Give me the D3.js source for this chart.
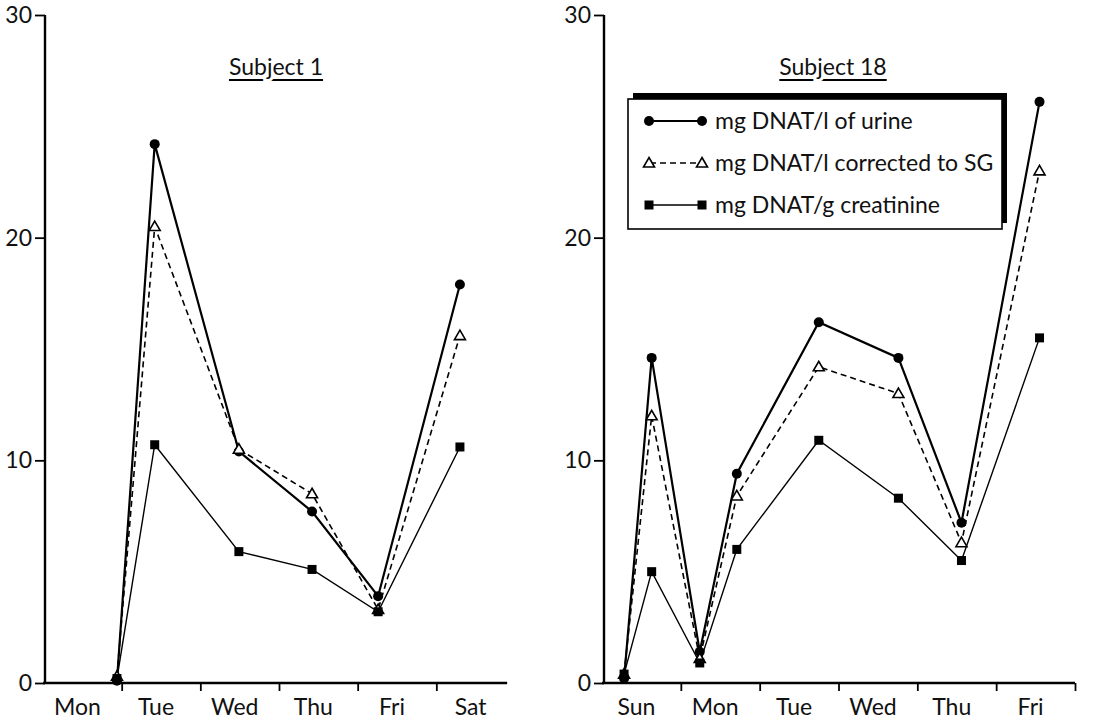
<!DOCTYPE html>
<html>
<head>
<meta charset="utf-8">
<script src="https://cdn.jsdelivr.net/npm/d3@7"></script>
<style>
  body { margin: 0; background: #fff; }
  text { font-family: Lato, "DejaVu Sans", sans-serif; fill: #111; }
</style>
</head>
<body>
<div id="chart"></div>
<script>
// ── Data ──────────────────────────────────────────────────────────────────────
// time = days since start of the first labelled day
const S1_DAYS   = ["Mon", "Tue", "Wed", "Thu", "Fri", "Sat"];
const S1_TIME   = [0.94, 1.42, 2.49, 3.42, 4.26, 5.30];
const S1_URINE  = [0.1, 24.2, 10.4, 7.7, 3.9, 17.9];
const S1_SG     = [0.3, 20.5, 10.5, 8.5, 3.3, 15.6];
const S1_CREAT  = [0.2, 10.7, 5.9, 5.1, 3.2, 10.6];

const S18_DAYS  = ["Sun", "Mon", "Tue", "Wed", "Thu", "Fri"];
const S18_TIME  = [0.28, 0.63, 1.24, 1.71, 2.75, 3.76, 4.56, 5.55];
const S18_URINE = [0.2, 14.6, 1.4, 9.4, 16.2, 14.6, 7.2, 26.1];
const S18_SG    = [0.4, 12.0, 1.1, 8.4, 14.2, 13.0, 6.3, 23.0];
const S18_CREAT = [0.4, 5.0, 0.9, 6.0, 10.9, 8.3, 5.5, 15.5];

const Y_TICKS   = [0, 10, 20, 30];
const LEGEND    = ["mg DNAT/l of urine", "mg DNAT/l corrected to SG", "mg DNAT/g creatinine"];

// ── Series styles ─────────────────────────────────────────────────────────────
const STYLES = [
  { marker: "circle",   dash: null,  width: 2.2 },
  { marker: "triangle", dash: "6,4", width: 1.6 },
  { marker: "square",   dash: null,  width: 1.4 },
];

// ── SVG ───────────────────────────────────────────────────────────────────────
const W = 1113, H = 722;
const svg = d3.select("#chart").append("svg")
  .attr("width", W).attr("height", H);

const yScale = d3.scaleLinear().domain([0, 30]).range([683, 15]);

const panels = [
  { title: "Subject 1",  cx: 276, days: S1_DAYS,  time: S1_TIME,
    series: [S1_URINE, S1_SG, S1_CREAT],   range: [43, 515],  yAxisX: 45,  axisEnd: 5.9, endTick: false },
  { title: "Subject 18", cx: 833, days: S18_DAYS, time: S18_TIME,
    series: [S18_URINE, S18_SG, S18_CREAT], range: [602, 1075], yAxisX: 604, axisEnd: 6.0, endTick: true },
];

function drawMarker(g, type, x, y) {
  if (type === "circle") {
    g.append("circle").attr("cx", x).attr("cy", y).attr("r", 5).attr("fill", "#000");
  } else if (type === "square") {
    g.append("rect").attr("x", x - 4.5).attr("y", y - 4.5)
      .attr("width", 9).attr("height", 9).attr("fill", "#000");
  } else {
    g.append("path")
      .attr("d", `M${x},${y - 5.5}L${x + 5.5},${y + 4}L${x - 5.5},${y + 4}Z`)
      .attr("fill", "#fff").attr("stroke", "#000").attr("stroke-width", 1.6);
  }
}

panels.forEach(p => {
  const x = d3.scaleLinear().domain([0, 6]).range(p.range);
  const g = svg.append("g");

  // y axis
  g.append("line")
    .attr("x1", p.yAxisX).attr("x2", p.yAxisX)
    .attr("y1", yScale(30)).attr("y2", yScale(0))
    .attr("stroke", "#000").attr("stroke-width", 2.4);
  const yAx = g.append("g").attr("transform", `translate(${p.yAxisX},0)`)
    .call(d3.axisLeft(yScale).tickValues(Y_TICKS).tickSize(10).tickPadding(3));
  yAx.select(".domain").remove();
  yAx.selectAll("line").attr("stroke-width", 1.8);
  yAx.selectAll("text").style("font-size", "23px").attr("fill", "#111");

  // x axis
  const xTicks = d3.range(1, p.endTick ? 7 : 6);
  g.append("line")
    .attr("x1", x(0)).attr("x2", x(p.axisEnd))
    .attr("y1", yScale(0)).attr("y2", yScale(0))
    .attr("stroke", "#000").attr("stroke-width", 2.4);
  const xAx = g.append("g").attr("transform", `translate(0,${yScale(0)})`)
    .call(d3.axisBottom(x).tickValues(xTicks).tickSize(8).tickFormat(""));
  xAx.select(".domain").remove();
  xAx.selectAll("line").attr("stroke-width", 1.8);

  // day labels
  const lab = g.append("g").attr("transform", `translate(0,${yScale(0)})`)
    .call(d3.axisBottom(x).tickValues(p.days.map((d, i) => i + 0.43))
      .tickSize(0).tickPadding(16).tickFormat((d, i) => p.days[i]));
  lab.select(".domain").remove();
  lab.selectAll("text").style("font-size", "23px").attr("fill", "#111");

  // title with underline broken by descender
  const ul = g.append("line")
    .attr("y1", 80).attr("y2", 80)
    .attr("stroke", "#000").attr("stroke-width", 1.8);
  const t = g.append("text")
    .attr("x", p.cx).attr("y", 75).attr("text-anchor", "middle")
    .attr("stroke", "#fff").attr("stroke-width", 6).attr("paint-order", "stroke")
    .style("font-size", "23px").text(p.title);
  const tw = t.node().getComputedTextLength();
  ul.attr("x1", p.cx - tw / 2).attr("x2", p.cx + tw / 2);

  // lines
  p.series.forEach((vals, si) => {
    const st = STYLES[si];
    const line = d3.line().x((d, i) => x(p.time[i])).y(d => yScale(d));
    g.append("path").datum(vals)
      .attr("d", line).attr("fill", "none")
      .attr("stroke", "#000").attr("stroke-width", st.width)
      .attr("stroke-dasharray", st.dash);
  });
  // markers
  p.series.forEach((vals, si) => {
    vals.forEach((v, i) => drawMarker(g, STYLES[si].marker, x(p.time[i]), yScale(v)));
  });
});

// ── Legend ────────────────────────────────────────────────────────────────────
const lg = svg.append("g").attr("transform", "translate(628,99)");
lg.append("rect").attr("x", 5).attr("y", -6).attr("width", 374).attr("height", 130).attr("fill", "#000");
lg.append("rect").attr("x", 0).attr("y", 0).attr("width", 374).attr("height", 130)
  .attr("fill", "#fff").attr("stroke", "#000").attr("stroke-width", 1.6);

LEGEND.forEach((label, i) => {
  const cy = 22 + i * 42;
  const st = STYLES[i];
  lg.append("line").attr("x1", 22).attr("x2", 72).attr("y1", cy).attr("y2", cy)
    .attr("stroke", "#000").attr("stroke-width", st.width).attr("stroke-dasharray", st.dash);
  drawMarker(lg, st.marker, 21, cy);
  drawMarker(lg, st.marker, 74, cy);
  lg.append("text").attr("x", 87).attr("y", cy + 8)
    .style("font-size", "23px").text(label);
});
</script>
</body>
</html>
